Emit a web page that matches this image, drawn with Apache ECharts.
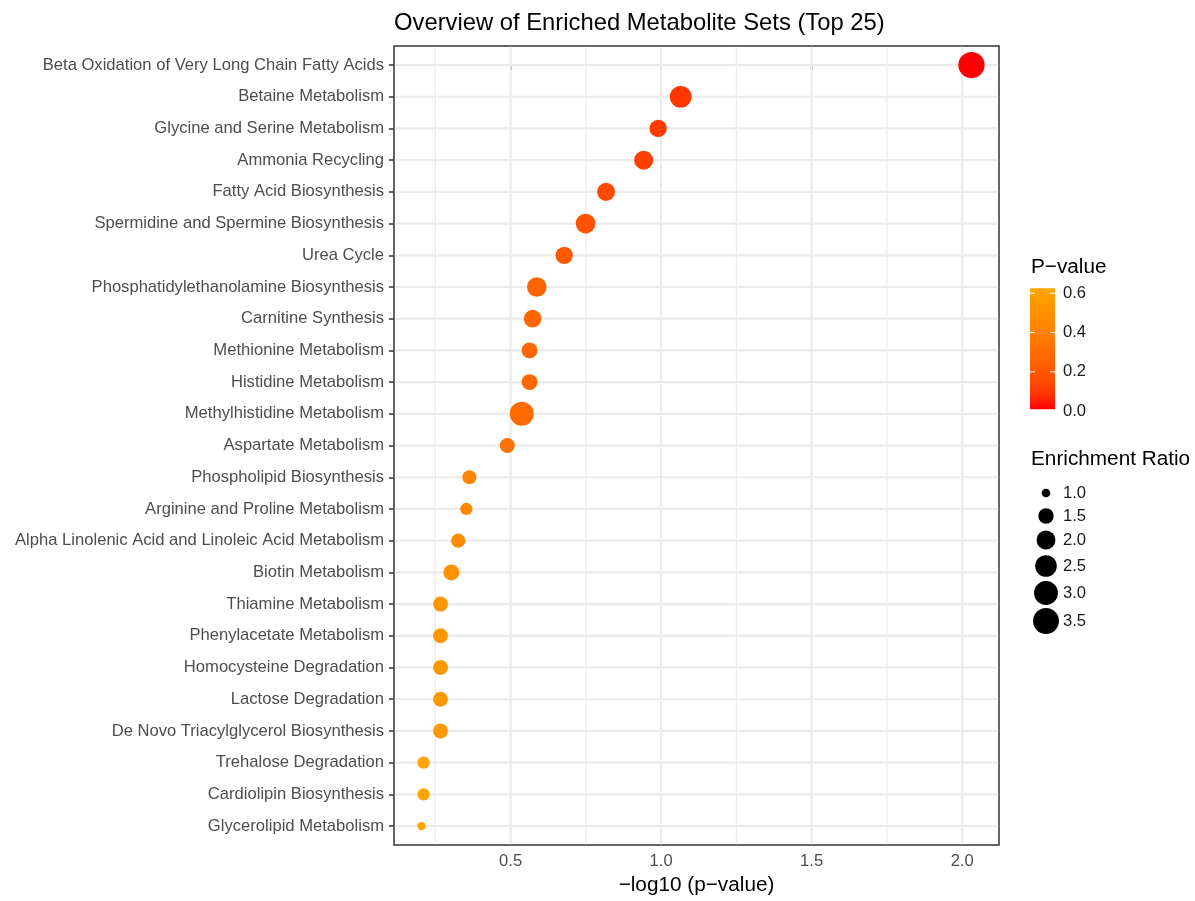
<!DOCTYPE html>
<html>
<head>
<meta charset="utf-8">
<script src="https://cdn.jsdelivr.net/npm/echarts@6/dist/echarts.min.js"></script>
<style>
  html, body { margin: 0; padding: 0; background: #ffffff; }
  #chart { width: 1195px; height: 901px; }
</style>
</head>
<body>
<div id="chart"></div>
<script>
// Metabolite sets, ordered from most to least significant
const categories = [
  'Beta Oxidation of Very Long Chain Fatty Acids',
  'Betaine Metabolism',
  'Glycine and Serine Metabolism',
  'Ammonia Recycling',
  'Fatty Acid Biosynthesis',
  'Spermidine and Spermine Biosynthesis',
  'Urea Cycle',
  'Phosphatidylethanolamine Biosynthesis',
  'Carnitine Synthesis',
  'Methionine Metabolism',
  'Histidine Metabolism',
  'Methylhistidine Metabolism',
  'Aspartate Metabolism',
  'Phospholipid Biosynthesis',
  'Arginine and Proline Metabolism',
  'Alpha Linolenic Acid and Linoleic Acid Metabolism',
  'Biotin Metabolism',
  'Thiamine Metabolism',
  'Phenylacetate Metabolism',
  'Homocysteine Degradation',
  'Lactose Degradation',
  'De Novo Triacylglycerol Biosynthesis',
  'Trehalose Degradation',
  'Cardiolipin Biosynthesis',
  'Glycerolipid Metabolism'
];

// -log10(p-value) of each set
const negLog10P = [
  2.031, 1.065, 0.990, 0.942, 0.817, 0.749, 0.678, 0.587, 0.573, 0.563,
  0.563, 0.537, 0.489, 0.363, 0.353, 0.326, 0.303, 0.267, 0.267, 0.267,
  0.267, 0.267, 0.211, 0.211, 0.204
];

// Enrichment ratio of each set
const enrichmentRatio = [
  3.62, 2.53, 1.75, 2.02, 1.86, 2.14, 1.75, 2.14, 1.81, 1.57,
  1.57, 3.04, 1.45, 1.34, 1.19, 1.37, 1.57, 1.45, 1.45, 1.45,
  1.45, 1.45, 1.19, 1.19, 0.99
];

// Axis and legend breaks
const xTicks = [0.5, 1.0, 1.5, 2.0];
const xMinorTicks = [0.25, 0.75, 1.25, 1.75];
const pTicks = [0.0, 0.2, 0.4, 0.6];
const ratioTicks = [1.0, 1.5, 2.0, 2.5, 3.0, 3.5];

const FONT = "'Liberation Sans', Arial, Helvetica, sans-serif";
const GRID = { left: 394, top: 46, width: 605, height: 805 };

// Red -> orange ramp (perceptual steps)
const RAMP = ['#FF0000', '#FF3600', '#FF4E00', '#FF6000', '#FF7000',
              '#FF7F00', '#FF8C00', '#FF9900', '#FFA500'];

const pValues = negLog10P.map(v => Math.pow(10, -v));
const pMin = Math.min(...pValues);
const pMax = Math.max(...pValues);
const xLo = Math.min(...negLog10P);
const xHi = Math.max(...negLog10P);
const xPad = 0.05 * (xHi - xLo);
const xMin = xLo - xPad;
const xMax = xHi + xPad;
const yMin = -0.6;
const yMax = categories.length - 1 + 0.6;

// Marker diameter from enrichment ratio (area-style scaling)
function dotSize(r) {
  return 6.6 + 12.1 * Math.sqrt(Math.max(r - 0.97, 0));
}

const points = categories.map((c, i) => [negLog10P[i], i, enrichmentRatio[i], pValues[i], c]);

// Background grid lines drawn through the axis scales
function gridLines(data, vertical, width) {
  return {
    type: 'custom',
    silent: true,
    z: 1,
    clip: false,
    data: data,
    renderItem(params, api) {
      const cs = params.coordSys;
      const p = api.coord([api.value(0), api.value(1)]);
      const inset = 0.8;
      const shape = vertical
        ? { x1: p[0], y1: cs.y + inset, x2: p[0], y2: cs.y + cs.height - inset }
        : { x1: cs.x + inset, y1: p[1], x2: cs.x + cs.width - inset, y2: p[1] };
      return { type: 'line', shape, style: { stroke: '#EBEBEB', lineWidth: width } };
    }
  };
}

// Legend: colour bar for p-value and dot sizes for enrichment ratio
function buildLegend() {
  const els = [];
  const lx = 1031;
  els.push({ type: 'text', left: lx, top: 257,
    style: { text: 'P\u2212value', font: '20.75px ' + FONT, fill: '#000' } });

  const barX = 1030, barY = 288.3, barW = 25, barH = 121;
  const colorStops = RAMP.map((c, i) => ({ offset: i / (RAMP.length - 1), color: c }));
  els.push({ type: 'rect', shape: { x: barX, y: barY, width: barW, height: barH },
    style: { fill: new echarts.graphic.LinearGradient(0, 1, 0, 0, colorStops) } });

  pTicks.forEach(t => {
    const y = barY + barH - (t - pMin) / (pMax - pMin) * barH;
    els.push({ type: 'line', shape: { x1: barX, y1: y, x2: barX + 5, y2: y },
      style: { stroke: '#ffffff', lineWidth: 1 } });
    els.push({ type: 'line', shape: { x1: barX + barW - 5, y1: y, x2: barX + barW, y2: y },
      style: { stroke: '#ffffff', lineWidth: 1 } });
    els.push({ type: 'text', x: 1063, y: y,
      style: { text: t.toFixed(1), font: '16.6px ' + FONT, fill: '#1a1a1a',
               textVerticalAlign: 'middle', textAlign: 'left' } });
  });

  els.push({ type: 'text', left: lx, top: 449,
    style: { text: 'Enrichment Ratio', font: '20.75px ' + FONT, fill: '#000' } });

  const keyY = [493, 516, 540, 566, 593, 621];
  ratioTicks.forEach((r, i) => {
    els.push({ type: 'circle', shape: { cx: 1046, cy: keyY[i], r: dotSize(r) / 2 },
      style: { fill: '#000' } });
    els.push({ type: 'text', x: 1063, y: keyY[i],
      style: { text: r.toFixed(1), font: '16.6px ' + FONT, fill: '#1a1a1a',
               textVerticalAlign: 'middle', textAlign: 'left' } });
  });
  return els;
}

const chart = echarts.init(document.getElementById('chart'), null, { renderer: 'canvas' });

chart.setOption({
  animation: false,
  backgroundColor: '#ffffff',
  textStyle: { fontFamily: FONT },
  title: {
    text: 'Overview of Enriched Metabolite Sets (Top 25)',
    left: 394,
    top: 11,
    padding: 0,
    textStyle: { fontSize: 23.8, fontWeight: 'normal', color: '#000', fontFamily: FONT }
  },
  grid: {
    left: GRID.left, top: GRID.top, width: GRID.width, height: GRID.height,
    show: true, borderColor: '#333333', borderWidth: 1.5, backgroundColor: 'transparent'
  },
  xAxis: {
    type: 'value',
    min: xMin,
    max: xMax,
    name: '\u2212log10 (p\u2212value)',
    nameLocation: 'middle',
    nameGap: 28,
    nameTextStyle: { fontSize: 20.75, color: '#000', fontFamily: FONT },
    axisLine: { show: false },
    axisTick: { show: true, length: 5, customValues: xTicks,
                lineStyle: { color: '#333333', width: 1.5 } },
    axisLabel: { customValues: xTicks, margin: 8, fontSize: 16.6, color: '#4D4D4D',
                 fontFamily: FONT, formatter: v => Number(v).toFixed(1) },
    splitLine: { show: false }
  },
  yAxis: {
    type: 'value',
    inverse: true,
    min: yMin,
    max: yMax,
    axisLine: { show: false },
    axisTick: { show: true, length: 5, customValues: categories.map((_, i) => i),
                lineStyle: { color: '#333333', width: 1.5 } },
    axisLabel: { customValues: categories.map((_, i) => i), margin: 10, fontSize: 16.6,
                 color: '#4D4D4D', fontFamily: FONT, formatter: v => categories[v] },
    splitLine: { show: false }
  },
  visualMap: {
    type: 'continuous',
    show: false,
    seriesIndex: 3,
    dimension: 3,
    min: pMin,
    max: pMax,
    inRange: { color: RAMP }
  },
  graphic: buildLegend(),
  series: [
    gridLines(xMinorTicks.map(v => [v, 0]), true, 1.2),
    gridLines(xTicks.map(v => [v, 0]), true, 2.2),
    gridLines(categories.map((_, i) => [xTicks[0], i]), false, 2.2),
    {
      type: 'scatter',
      z: 3,
      data: points,
      symbol: 'circle',
      symbolSize: d => dotSize(d[2]),
      itemStyle: { opacity: 1 },
      emphasis: { disabled: true }
    }
  ]
});
</script>
</body>
</html>
